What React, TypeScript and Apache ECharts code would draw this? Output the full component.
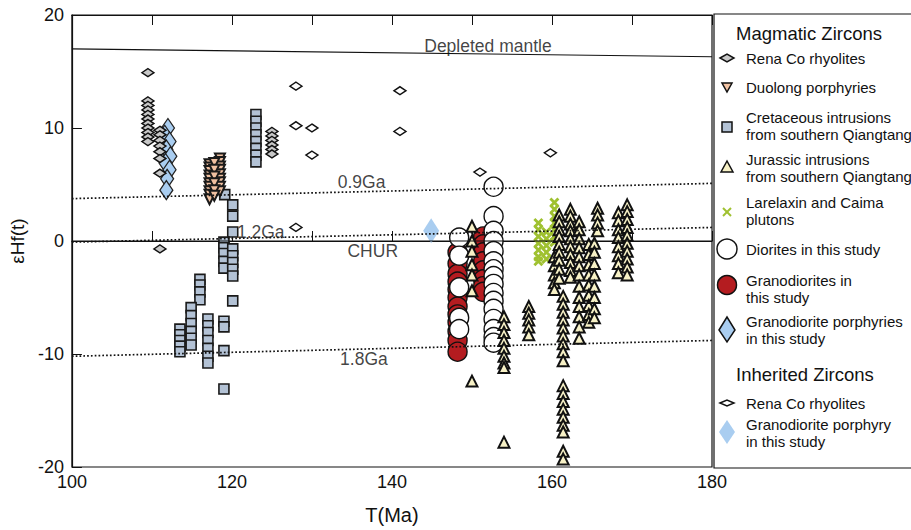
import React, { useEffect, useRef } from "react";
import * as echarts from "echarts";

// ---- reference curves [T(Ma), eHf] ----
const depletedMantle = [[100, 17.0], [180, 16.3]];
const ga09 = [[100, 3.75], [180, 5.1]];
const ga12 = [[100, -0.1], [180, 1.2]];
const chur = [[100, 0], [180, 0]];
const ga18 = [[100, -10.2], [180, -8.8]];

// curve labels [T, eHf, text]
const curveLabels: [number, number, string][] = [
  [152.0, 17.3, "Depleted mantle"],
  [136.2, 5.2, "0.9Ga"],
  [123.6, 0.8, "1.2Ga"],
  [137.6, -0.9, "CHUR"],
  [136.5, -10.4, "1.8Ga"],
];

// ---- magmatic zircons ----
const renaCoMagmatic = [
  [109.5, 14.9], [109.5, 12.4], [109.5, 12.0], [109.5, 11.6], [109.5, 11.2], [109.5, 10.8],
  [109.5, 10.4], [109.5, 10.0], [109.5, 9.6], [109.5, 9.2], [109.5, 8.8],
  [111.0, 9.8], [111.0, 9.4], [111.0, 8.9], [111.0, 8.4], [111.0, 7.9], [111.0, 7.3], [111.0, 6.0],
  [111.0, -0.7],
  [125.0, 9.7], [125.0, 9.3], [125.0, 8.9], [125.0, 8.5], [125.0, 8.1], [125.0, 7.7],
];

const duolong = [
  [117.2, 6.8], [117.2, 6.5], [117.2, 6.2], [117.2, 5.8], [117.2, 5.5], [117.2, 5.1], [117.2, 4.8],
  [117.2, 4.4], [117.2, 4.1], [117.2, 3.7],
  [118.5, 7.3], [118.5, 7.0], [118.5, 6.6], [118.5, 6.3], [118.5, 5.9], [118.5, 5.5], [118.5, 5.2],
  [118.5, 4.8], [118.5, 4.4],
  [117.8, 6.9], [117.8, 6.3], [117.8, 5.7], [117.8, 5.1], [117.8, 4.5], [117.8, 4.0],
];

const cretaceous = [
  [123.0, 11.2], [123.0, 10.6], [123.0, 10.0], [123.0, 9.4], [123.0, 8.8], [123.0, 8.2], [123.0, 7.6],
  [123.0, 7.0],
  [119.1, 4.1], [120.1, 3.2], [120.1, 2.2], [120.1, 0.8],
  [119.0, -0.1], [119.0, -0.6], [119.0, -1.1], [119.0, -1.8], [119.0, -2.4],
  [120.1, -0.7], [120.1, -1.3], [120.1, -1.9], [120.1, -2.5], [120.1, -3.1], [120.1, -5.3],
  [116.0, -3.4], [116.0, -3.9], [116.0, -4.5], [116.0, -5.2],
  [114.9, -5.9], [114.9, -6.6], [114.9, -7.3], [114.9, -8.0], [114.9, -8.6], [114.9, -9.2],
  [113.5, -7.8], [113.5, -8.3], [113.5, -8.8], [113.5, -9.3], [113.5, -9.8],
  [117.0, -6.9], [117.0, -7.5], [117.0, -8.1], [117.0, -8.8], [117.0, -9.5], [117.0, -10.2], [117.0, -10.8],
  [119.0, -7.1], [119.0, -7.6], [119.0, -9.7], [119.0, -13.1],
];

const jurassic = [
  [150.0, 1.3], [150.0, 0.0], [150.0, -0.9], [150.0, -2.1], [150.0, -3.0], [150.0, -4.4], [150.0, -12.4],
  [154.0, -6.7], [154.0, -7.4], [154.0, -8.1], [154.0, -8.8], [154.0, -9.5], [154.0, -10.2], [154.0, -10.8],
  [154.0, -11.2], [154.0, -17.8],
  [157.1, -5.8], [157.1, -6.4], [157.1, -7.0], [157.1, -7.6], [157.1, -8.3],
  [160.3, -1.4], [160.3, -2.2], [160.3, -3.0], [160.3, -3.7], [160.3, -4.3],
  [160.9, 2.3], [160.9, 1.7], [160.9, 1.0], [160.9, 0.4], [160.9, -0.3], [160.9, -1.0], [160.9, -1.7],
  [160.9, -2.5], [160.9, -3.3],
  [161.4, -4.9], [161.4, -5.6], [161.4, -6.3], [161.4, -7.0], [161.4, -7.7], [161.4, -8.4], [161.4, -9.1],
  [161.4, -9.8], [161.4, -10.6], [161.4, -12.8], [161.4, -13.5], [161.4, -14.2], [161.4, -14.9],
  [161.4, -15.6], [161.4, -16.3], [161.4, -16.9], [161.4, -18.6], [161.4, -19.3],
  [162.3, 2.8], [162.3, 2.2], [162.3, 1.5], [162.3, 0.9], [162.3, 0.2], [162.3, -0.5], [162.3, -1.2],
  [162.3, -1.9], [162.3, -2.6], [162.3, -3.2],
  [163.4, 1.7], [163.4, 1.0], [163.4, 0.2], [163.4, -0.6], [163.4, -1.4], [163.4, -2.2], [163.4, -3.0],
  [163.4, -4.0], [163.4, -5.0], [163.4, -5.8], [163.4, -6.7], [163.4, -7.6], [163.4, -8.6],
  [164.6, -0.3], [164.6, -1.2], [164.6, -2.1], [164.6, -3.0], [164.6, -3.9], [164.6, -4.8], [164.6, -5.7],
  [164.6, -6.5], [164.6, -7.2],
  [165.3, -0.2], [165.3, -1.0], [165.3, -2.0], [165.3, -3.0], [165.3, -4.0], [165.3, -5.0], [165.3, -6.0],
  [165.3, -6.8],
  [165.7, 2.9], [165.7, 2.3], [165.7, 1.6], [165.7, 0.9],
  [168.3, 2.5], [168.3, 1.8], [168.3, 1.0], [168.3, 0.3], [168.3, -0.5], [168.3, -1.3], [168.3, -2.0],
  [168.3, -2.8],
  [169.4, 3.2], [169.4, 2.6], [169.4, 1.9], [169.4, 1.2], [169.4, 0.5], [169.4, -0.2], [169.4, -0.9],
  [169.4, -1.6], [169.4, -2.3], [169.4, -3.0],
];

const larelaxin = [
  [158.3, 1.6], [158.3, 1.0], [158.3, 0.4], [158.3, -0.2], [158.3, -0.8], [158.3, -1.4], [158.3, -1.8],
  [159.3, 0.8], [159.3, 0.2], [159.3, -0.4], [159.3, -1.0], [159.3, -1.6],
  [160.3, 3.4], [160.3, 2.8], [160.3, 2.2], [160.3, 1.6], [160.3, 1.0], [160.3, 0.4], [160.3, -0.1],
];

const granodiorites = [
  [148.2, -1.0], [148.2, -2.0], [148.2, -2.9], [148.2, -3.6], [148.2, -4.3], [148.2, -5.0], [148.2, -5.8],
  [148.2, -6.5], [148.2, -7.2], [148.2, -8.0], [148.2, -8.8], [148.2, -9.8],
  [151.4, 0.4], [151.4, -0.3], [151.4, -1.0], [151.4, -1.8], [151.4, -2.6], [151.4, -3.4], [151.4, -4.0],
  [151.4, -4.5],
];

const diorites = [
  [148.4, 0.3], [148.4, -1.3], [148.4, -4.1], [148.4, -6.8], [148.4, -7.8],
  [152.7, 4.8], [152.7, 2.2], [152.7, 0.9], [152.7, 0.0], [152.7, -0.9], [152.7, -1.8], [152.7, -2.5],
  [152.7, -3.1], [152.7, -3.8], [152.7, -4.6], [152.7, -5.3], [152.7, -6.0], [152.7, -6.9], [152.7, -7.8],
  [152.7, -8.5], [152.7, -9.0],
];

const granodioritePorphyries = [
  [112.0, 10.0], [111.6, 9.4], [112.2, 8.8], [111.8, 8.1], [112.3, 7.5], [111.7, 6.9], [112.2, 6.3],
  [111.9, 5.5], [111.8, 4.5],
];

// ---- inherited zircons ----
const renaCoInherited = [
  [128.0, 13.7], [128.0, 10.2], [130.0, 10.0], [130.0, 7.6], [141.0, 13.3], [141.0, 9.7],
  [151.0, 6.1], [159.8, 7.8], [128.0, 1.2],
];
const porphyryInherited = [[144.9, 0.9]];

const FONT = "Liberation Sans, Arial, Helvetica, sans-serif";
const X_PATH =
  "path://M2,0L5,3L8,0L10,2L7,5L10,8L8,10L5,7L2,10L0,8L3,5L0,2Z";

function scatter(name: string, data: number[][], symbol: string, size: any, fill: string,
  stroke: string | null, lw: number, extra: any = {}) {
  return {
    name,
    type: "scatter",
    data,
    symbol,
    symbolSize: size,
    itemStyle: {
      color: fill,
      borderColor: stroke || fill,
      borderWidth: stroke ? lw : 0,
      opacity: 1,
    },
    emphasis: { disabled: true },
    ...extra,
  };
}

function refLine(data: number[][], dotted: boolean) {
  return {
    type: "line",
    data,
    symbol: "none",
    silent: true,
    lineStyle: {
      color: "#111",
      width: dotted ? 1.7 : 1.1,
      type: dotted ? [1.7, 2.1] : "solid",
    },
  };
}

const T = (text: string, x: number, y: number, size: number) => ({
  type: "text",
  x,
  y,
  style: {
    text,
    fontSize: size,
    fontFamily: FONT,
    fill: "#111",
    verticalAlign: "middle",
    lineHeight: 16.5,
  },
});

const legendGraphics = [
  {
    type: "rect",
    shape: { x: 714, y: 14, width: 220, height: 454 },
    style: { fill: "none", stroke: "#111", lineWidth: 1.2 },
  },
  T("Magmatic Zircons", 736, 33, 18.5),
  {
    type: "polygon",
    shape: { points: [[720, 58], [727, 54], [734, 58], [727, 62]] },
    style: { fill: "#c8c8c8", stroke: "#111", lineWidth: 1.5 },
  },
  T("Rena Co rhyolites", 746, 58, 15),
  {
    type: "polygon",
    shape: { points: [[722, 83], [732, 83], [727, 92]] },
    style: { fill: "#f3c3a3", stroke: "#111", lineWidth: 1.5 },
  },
  T("Duolong porphyries", 746, 87, 15),
  {
    type: "rect",
    shape: { x: 722, y: 122, width: 10, height: 10 },
    style: { fill: "#b3c2d5", stroke: "#111", lineWidth: 1.5 },
  },
  T("Cretaceous intrusions\nfrom southern Qiangtang", 746, 126, 15),
  {
    type: "polygon",
    shape: { points: [[721, 172], [733, 172], [727, 161]] },
    style: { fill: "#f7f1c6", stroke: "#111", lineWidth: 1.5 },
  },
  T("Jurassic intrusions\nfrom southern Qiangtang", 746, 168, 15),
  {
    type: "line",
    shape: { x1: 723, y1: 208, x2: 731, y2: 216 },
    style: { stroke: "#9fc130", lineWidth: 2 },
  },
  {
    type: "line",
    shape: { x1: 731, y1: 208, x2: 723, y2: 216 },
    style: { stroke: "#9fc130", lineWidth: 2 },
  },
  T("Larelaxin and Caima\nplutons", 746, 211, 15),
  {
    type: "circle",
    shape: { cx: 727, cy: 249, r: 10 },
    style: { fill: "#fff", stroke: "#111", lineWidth: 1.5 },
  },
  T("Diorites in this study", 746, 249, 15),
  {
    type: "circle",
    shape: { cx: 727, cy: 285, r: 9.5 },
    style: { fill: "#b41c20", stroke: "#111", lineWidth: 1.5 },
  },
  T("Granodiorites in\nthis study", 746, 289, 15),
  {
    type: "polygon",
    shape: { points: [[719, 330], [727, 317], [735, 330], [727, 342]] },
    style: { fill: "#a9cdf0", stroke: "#111", lineWidth: 1.5 },
  },
  T("Granodiorite porphyries\nin this study", 746, 330, 15),
  T("Inherited Zircons", 736, 374, 18.5),
  {
    type: "polygon",
    shape: { points: [[720, 403], [727, 400], [734, 403], [727, 406]] },
    style: { fill: "#fff", stroke: "#111", lineWidth: 1.5 },
  },
  T("Rena Co rhyolites", 746, 403, 15),
  {
    type: "polygon",
    shape: { points: [[719, 432], [727, 420], [735, 432], [727, 444]] },
    style: { fill: "#a9cdf0" },
  },
  T("Granodiorite porphyry\nin this study", 746, 433, 15),
];

export default function App() {
  const ref = useRef<HTMLDivElement>(null);
  useEffect(() => {
    const chart = echarts.init(ref.current!, null, { renderer: "svg" });
    const axisLine = { show: true, lineStyle: { color: "#111", width: 1.2 } };
    const option: any = {
      animation: false,
      backgroundColor: "#fff",
      textStyle: { fontFamily: FONT },
      grid: {
        left: 62, right: 199, top: 15, bottom: 62,
        show: true, borderColor: "#111", borderWidth: 1.2,
      },
      xAxis: [
        {
          type: "value", min: 100, max: 180, interval: 10,
          name: "T(Ma)", nameLocation: "middle", nameGap: 38,
          nameTextStyle: { fontSize: 20, color: "#111", fontFamily: FONT },
          axisLine, splitLine: { show: false },
          axisTick: { show: true, inside: true, length: 10, lineStyle: { color: "#111" } },
          axisLabel: {
            fontSize: 18, color: "#111", margin: 6, fontFamily: FONT,
            formatter: (v: number) => (v % 20 === 0 ? String(v) : ""),
          },
        },
        {
          type: "value", min: 100, max: 180, interval: 10, position: "top",
          axisLine, splitLine: { show: false },
          axisTick: { show: true, inside: true, length: 10, lineStyle: { color: "#111" } },
          axisLabel: { show: false },
        },
      ],
      yAxis: [
        {
          type: "value", min: -20, max: 20, interval: 10,
          name: "εHf(t)", nameLocation: "middle", nameGap: 34, nameRotate: 90,
          nameTextStyle: { fontSize: 19, color: "#111", fontFamily: FONT },
          axisLine, splitLine: { show: false },
          axisTick: { show: true, inside: true, length: 10, lineStyle: { color: "#111" } },
          axisLabel: { fontSize: 18, color: "#111", margin: 8, fontFamily: FONT },
        },
      ],
      series: [
        refLine(depletedMantle, false),
        refLine(ga09, true),
        refLine(ga12, true),
        refLine(chur, false),
        refLine(ga18, true),
        scatter("Cretaceous intrusions", cretaceous, "rect", 10, "#b3c2d5", "#1a1a1a", 1.6),
        scatter("Duolong porphyries", duolong, "triangle", 10, "#f0c0a0", "#1a1a1a", 2, { symbolRotate: 180 }),
        scatter("Granodiorite porphyries", granodioritePorphyries, "diamond", [13, 19], "#a9cdf0", "#222", 1.3),
        scatter("Rena Co rhyolites", renaCoMagmatic, "diamond", [12, 8], "#c8c8c8", "#111", 1.5),
        scatter("Larelaxin and Caima plutons", larelaxin, X_PATH, 10, "#9fc130", null, 0),
        scatter("Granodiorites", granodiorites, "circle", 19, "#b41c20", "#111", 1.4),
        scatter("Diorites", diorites, "circle", 19, "#ffffff", "#111", 1.4),
        scatter("Jurassic intrusions", jurassic, "triangle", 11, "#f7f1c6", "#111", 2),
        scatter("Rena Co inherited", renaCoInherited, "diamond", [12, 8], "#ffffff", "#111", 1.5),
        scatter("Granodiorite porphyry inherited", porphyryInherited, "diamond", [16, 25], "#a9cdf0", null, 0),
        {
          type: "scatter",
          data: curveLabels,
          symbolSize: 1,
          itemStyle: { color: "rgba(0,0,0,0)" },
          silent: true,
          label: {
            show: true,
            position: "inside",
            formatter: (p: any) => p.value[2],
            fontSize: 17.5,
            color: "#111",
            fontFamily: FONT,
          },
        },
      ],
      graphic: legendGraphics,
    };
    chart.setOption(option);
    return () => chart.dispose();
  }, []);
  return (
    <div
      ref={ref}
      style={{ position: "absolute", left: 0, top: 0, width: 911, height: 530, background: "#fff" }}
    />
  );
}
